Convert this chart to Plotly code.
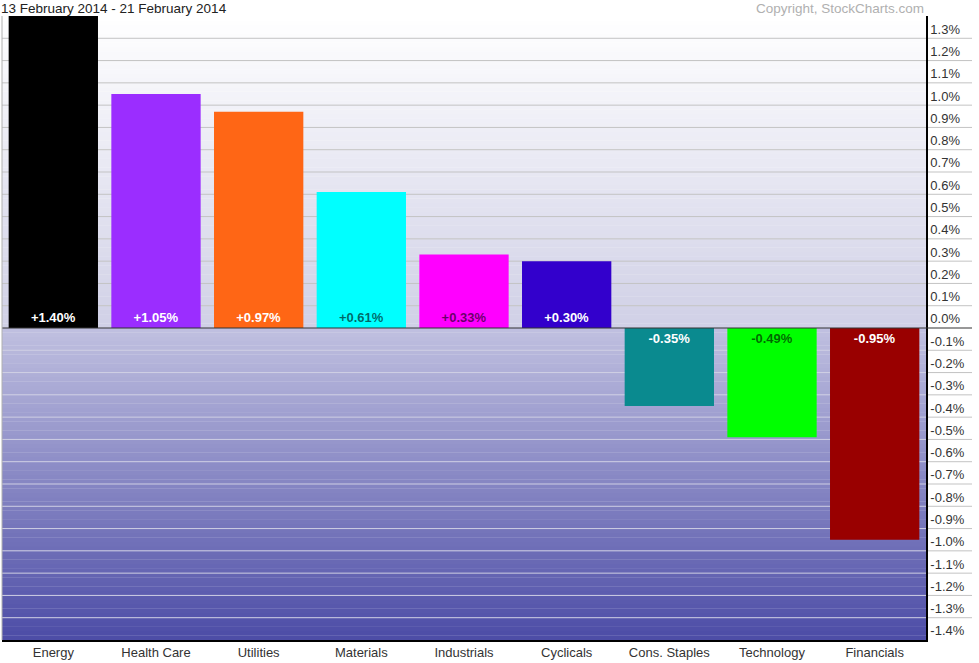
import plotly.graph_objects as go

categories = ["Energy", "Health Care", "Utilities", "Materials", "Industrials",
              "Cyclicals", "Cons. Staples", "Technology", "Financials"]
values = [1.40, 1.05, 0.97, 0.61, 0.33, 0.30, -0.35, -0.49, -0.95]
bar_colors = ["#000000", "#9b2dff", "#ff6615", "#00ffff", "#ff00ff",
              "#3300cc", "#0a8a8f", "#00ff00", "#990000"]
text_colors = ["#ffffff", "#ffffff", "#ffffff", "rgba(0,0,0,0.6)", "rgba(0,0,0,0.6)",
               "#ffffff", "#ffffff", "rgba(0,0,0,0.6)", "#ffffff"]
tick_vals = [round(-1.4 + 0.1 * i, 1) for i in range(28)]
tick_text = [f"{v:.1f}%" for v in tick_vals]

title_text = "13 February 2014 - 21 February 2014"
copyright_text = "Copyright, StockCharts.com"

Y_MIN, Y_MAX = -1.4, 1.4
FONT = "Liberation Sans, Arial, sans-serif"


def frac(v):
    return (v - Y_MIN) / (Y_MAX - Y_MIN)


def lerp(c1, c2, t):
    return "rgb(%d,%d,%d)" % tuple(round(a + (b - a) * t) for a, b in zip(c1, c2))


bar_labels = [("+" if v > 0 else "") + f"{v:.2f}%" for v in values]

fig = go.Figure()
fig.add_trace(go.Bar(
    x=categories, y=values, marker=dict(color=bar_colors, line=dict(width=0)),
    text=bar_labels, textposition="inside", insidetextanchor="start",
    textfont=dict(family=FONT, size=13, color=text_colors, weight="bold"),
    textangle=0, hoverinfo="x+y", showlegend=False,
))

shapes = []
# gradient background bands
steps = 140
top_c, mid_up = (255, 255, 255), (208, 208, 230)
mid_dn, bot_c = (192, 192, 224), (76, 76, 166)
for i in range(steps):
    y0 = Y_MIN + (Y_MAX - Y_MIN) * i / steps
    y1 = Y_MIN + (Y_MAX - Y_MIN) * (i + 1) / steps
    yc = (y0 + y1) / 2
    if yc >= 0:
        col = lerp(mid_up, top_c, yc / Y_MAX)
    else:
        col = lerp(mid_dn, bot_c, yc / Y_MIN)
    shapes.append(dict(type="rect", xref="paper", yref="paper", x0=0, x1=1,
                       y0=frac(y0), y1=frac(y1) + 0.0005, fillcolor=col,
                       line=dict(width=0), layer="below"))
# gridlines
for v in tick_vals:
    if v == 0 or v == Y_MIN:
        continue
    inside_col = "#c3c3c3" if v > 0 else "#cfcfe4"
    shapes.append(dict(type="line", xref="paper", yref="paper", x0=0, x1=1,
                       y0=frac(v), y1=frac(v), line=dict(color=inside_col, width=1),
                       layer="below"))
    shapes.append(dict(type="line", xref="paper", yref="paper", x0=1, x1=1.0498,
                       y0=frac(v), y1=frac(v), line=dict(color="#c3c3c3", width=1),
                       layer="below"))
# zero line
shapes.append(dict(type="line", xref="paper", yref="paper", x0=0, x1=1.0498,
                   y0=frac(0), y1=frac(0), line=dict(color="#333333", width=1.2),
                   layer="above"))
# left border
shapes.append(dict(type="line", xref="paper", yref="paper", x0=0, x1=0, y0=0, y1=1,
                   line=dict(color="#b0b0b0", width=1), layer="above"))

fig.update_layout(
    width=979, height=663,
    margin=dict(l=2, r=53, t=16, b=23),
    paper_bgcolor="#ffffff", plot_bgcolor="#ffffff",
    bargap=0.13,
    font=dict(family=FONT, size=13, color="#333333"),
    shapes=shapes,
    xaxis=dict(type="category", showgrid=False, zeroline=False, showline=True,
               linecolor="#000000", linewidth=1.5, ticks="",
               tickfont=dict(family=FONT, size=13, color="#333333"), fixedrange=True),
    yaxis=dict(range=[Y_MIN, Y_MAX], side="right", showgrid=False, zeroline=False,
               showline=True, linecolor="#000000", linewidth=1.5, ticks="",
               tickvals=tick_vals, ticktext=tick_text,
               ticklabelposition="outside top",
               tickfont=dict(family=FONT, size=13, color="#333333"), fixedrange=True),
    annotations=[
        dict(text=title_text, xref="paper", yref="paper", x=0, y=1, xshift=-3,
             xanchor="left", yanchor="bottom", yshift=-2, showarrow=False,
             font=dict(family=FONT, size=13.5, color="#222222")),
        dict(text=copyright_text, xref="paper", yref="paper", x=1, y=1,
             xanchor="right", yanchor="bottom", yshift=-2, showarrow=False,
             font=dict(family=FONT, size=13.5, color="#b0b0b0")),
    ],
)

fig.write_html("out.html", config={"displayModeBar": False},
               post_script="document.body.style.margin='0';document.body.style.padding='0';")
